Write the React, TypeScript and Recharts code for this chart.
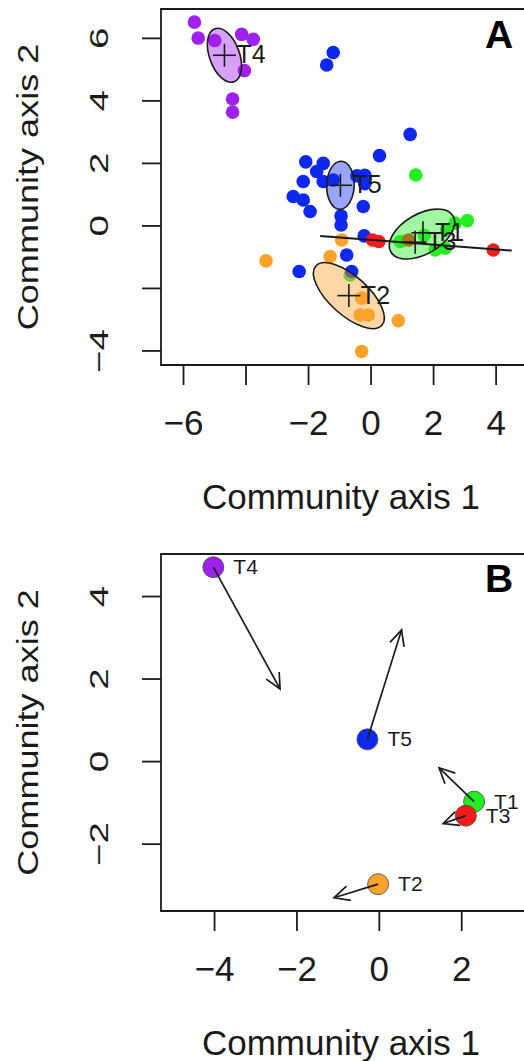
import {
  ScatterChart,
  Scatter,
  XAxis,
  YAxis,
  ReferenceArea,
  ReferenceLine,
} from 'recharts';

const FONT = '"Liberation Sans", Arial, Helvetica, sans-serif';
const INK = '#1b1b1b';

const COLORS: Record<string, string> = {
  T1: '#22ee22',
  T2: '#fba32b',
  T3: '#fb1a1a',
  T4: '#a020f0',
  T5: '#0f28f0',
};

// Panel A: site scores, one list per treatment
const sitesT1 = [
  { x: 1.43, y: 1.63 }, { x: 3.08, y: 0.17 }, { x: 2.69, y: 0.09 }, { x: 0.93, y: -0.5 },
  { x: 2.05, y: -0.77 }, { x: 2.37, y: -0.71 }, { x: 2.42, y: -0.13 }, { x: 1.7, y: -0.3 },
  { x: -0.67, y: -1.57 },
];
const sitesT2 = [
  { x: -0.94, y: -0.45 }, { x: -3.36, y: -1.12 }, { x: -1.31, y: -0.98 }, { x: -0.3, y: -2.31 },
  { x: -0.35, y: -2.85 }, { x: -0.09, y: -2.85 }, { x: 0.87, y: -3.03 }, { x: -0.3, y: -4.02 },
];
const sitesT3 = [
  { x: 0.05, y: -0.45 }, { x: 0.25, y: -0.5 }, { x: 1.2, y: -0.45 }, { x: 3.91, y: -0.77 },
];
const sitesT4 = [
  { x: -5.65, y: 6.52 }, { x: -5.53, y: 6.01 }, { x: -5.0, y: 5.93 }, { x: -4.14, y: 6.13 },
  { x: -3.77, y: 5.97 }, { x: -4.05, y: 4.97 }, { x: -4.43, y: 4.06 }, { x: -4.43, y: 3.64 },
];
const sitesT5 = [
  { x: -1.21, y: 5.55 }, { x: -1.42, y: 5.15 }, { x: 1.25, y: 2.93 }, { x: 0.27, y: 2.25 },
  { x: -2.09, y: 2.05 }, { x: -1.53, y: 2.0 }, { x: -1.74, y: 1.74 }, { x: -2.17, y: 1.42 },
  { x: -1.53, y: 1.42 }, { x: -1.21, y: 1.47 }, { x: -0.45, y: 1.6 }, { x: -0.2, y: 1.62 },
  { x: -0.2, y: 1.35 }, { x: -2.49, y: 0.94 }, { x: -2.17, y: 0.83 }, { x: -1.95, y: 0.46 },
  { x: -0.96, y: 0.32 }, { x: -0.96, y: 0.03 }, { x: -0.25, y: 0.62 }, { x: -0.22, y: -0.32 },
  { x: -0.78, y: -0.93 }, { x: -2.3, y: -1.46 }, { x: -0.62, y: -1.46 },
];

// treatment centroids (crosses)
const centroidsA = [
  { id: 'T4', x: -4.69, y: 5.46 },
  { id: 'T5', x: -0.98, y: 1.3 },
  { id: 'T1', x: 1.66, y: -0.22 },
  { id: 'T3', x: 1.41, y: -0.52 },
  { id: 'T2', x: -0.71, y: -2.23 },
];

// dispersion ellipses: centre, semi-axes (data units), rotation in degrees
const ellipsesA = [
  { id: 'T4', x: -4.69, y: 5.46, a: 0.9, b: 0.48, angle: -70 },
  { id: 'T5', x: -0.98, y: 1.3, a: 0.77, b: 0.44, angle: 88 },
  { id: 'T1', x: 1.63, y: -0.26, a: 1.15, b: 0.64, angle: 30 },
  { id: 'T2', x: -0.71, y: -2.23, a: 1.42, b: 0.62, angle: -42 },
];

// T3 ellipse collapses to a line
const t3Axis = [{ x: -1.63, y: -0.32 }, { x: 4.5, y: -0.79 }];

// Panel B: centroids and where they moved to
const centroidsB = [
  { id: 'T4', x: -4.03, y: 4.71 },
  { id: 'T5', x: -0.29, y: 0.54 },
  { id: 'T2', x: -0.03, y: -2.97 },
  { id: 'T1', x: 2.3, y: -0.97 },
  { id: 'T3', x: 2.1, y: -1.31 },
];
const shiftEndsB = [
  { id: 'T4', x: -2.41, y: 1.76 },
  { id: 'T5', x: 0.54, y: 3.19 },
  { id: 'T2', x: -1.1, y: -3.3 },
  { id: 'T1', x: 1.45, y: -0.15 },
  { id: 'T3', x: 1.55, y: -1.5 },
];

const A_X_DOMAIN = [-6.72, 5.5];
const A_Y_DOMAIN = [-4.45, 6.94];
const A_X_TICKS = [-6, -4, -2, 0, 2, 4];
const A_Y_TICKS = [-4, -2, 0, 2, 4, 6];
const A_X_UNLABELLED = [-4];
const A_Y_UNLABELLED = [-2];

const B_X_DOMAIN = [-5.3, 3.9];
const B_Y_DOMAIN = [-3.62, 5.03];
const B_X_TICKS = [-4, -2, 0, 2];
const B_Y_TICKS = [-2, 0, 2, 4];

const fmt = (v: number) => (v < 0 ? `\u2212${-v}` : `${v}`);

const xTick = (skip: number[]) => (p: any) => {
  const v = p.payload.value;
  return (
    <text x={p.x} y={p.y + 50} textAnchor="middle" fontSize={35} fontFamily={FONT} fill={INK}>
      {skip.includes(v) ? '' : fmt(v)}
    </text>
  );
};

const yTick = (skip: number[]) => (p: any) => {
  const v = p.payload.value;
  return (
    <text
      transform={`translate(${p.x - 34},${p.y}) rotate(-90) scale(1.1,0.75)`}
      textAnchor="middle"
      fontSize={35}
      fontFamily={FONT}
      fill={INK}
    >
      {skip.includes(v) ? '' : fmt(v)}
    </text>
  );
};

const xTitle = (p: any) => {
  const vb = p.viewBox;
  return (
    <text x={vb.x + 180} y={vb.y + 144} textAnchor="middle" fontSize={35} fontFamily={FONT} fill={INK}>
      Community axis 1
    </text>
  );
};

const yTitle = (p: any) => {
  const vb = p.viewBox;
  return (
    <text
      transform={`translate(${vb.x - 63},${vb.y + vb.height / 2}) rotate(-90) scale(1.03,0.85)`}
      textAnchor="middle"
      fontSize={35}
      fontFamily={FONT}
      fill={INK}
    >
      Community axis 2
    </text>
  );
};

const panelTag = (tag: string, dy: number) => (p: any) => {
  const vb = p.viewBox;
  return (
    <text x={vb.x + 338} y={vb.y + dy} textAnchor="middle" fontSize={39} fontWeight="bold" fontFamily={FONT} fill="#000">
      {tag}
    </text>
  );
};

const dot = (color: string) => (p: any) => <circle cx={p.cx} cy={p.cy} r={6.8} fill={color} />;

const crossShape = (p: any) => (
  <g>
    <line x1={p.cx - 11.5} x2={p.cx + 11.5} y1={p.cy} y2={p.cy} stroke={INK} strokeWidth={1.6} />
    <line x1={p.cx} x2={p.cx} y1={p.cy - 11.5} y2={p.cy + 11.5} stroke={INK} strokeWidth={1.6} />
    <text x={p.cx + 12} y={p.cy + 8} fontSize={25} fontFamily={FONT} fill={INK}>
      {p.payload.id}
    </text>
  </g>
);

const ellipseShape = (color: string, angle: number) => (p: any) => {
  const cx = p.x + p.width / 2;
  const cy = p.y + p.height / 2;
  return (
    <ellipse
      cx={cx}
      cy={cy}
      rx={p.width / 2}
      ry={p.height / 2}
      transform={`rotate(${-angle} ${cx} ${cy})`}
      fill={color}
      fillOpacity={0.42}
      stroke={INK}
      strokeWidth={1.6}
    />
  );
};

const centroidDot = (p: any) => (
  <g>
    <circle cx={p.cx} cy={p.cy} r={10.5} fill={COLORS[p.payload.id]} stroke="#444" strokeWidth={0.8} />
    <text x={p.cx + 20} y={p.cy + 7} fontSize={21} fontFamily={FONT} fill={INK}>
      {p.payload.id}
    </text>
  </g>
);

const arrowShape = (p: any) => {
  const { x1, y1, x2, y2 } = p;
  const ang = Math.atan2(y2 - y1, x2 - x1);
  const len = 17;
  const spread = Math.PI / 7;
  const ax1 = x2 - len * Math.cos(ang - spread);
  const ay1 = y2 - len * Math.sin(ang - spread);
  const ax2 = x2 - len * Math.cos(ang + spread);
  const ay2 = y2 - len * Math.sin(ang + spread);
  return (
    <g>
      <line x1={x1} y1={y1} x2={x2} y2={y2} stroke={INK} strokeWidth={1.7} />
      <polyline points={`${ax1},${ay1} ${x2},${y2} ${ax2},${ay2}`} fill="none" stroke={INK} strokeWidth={1.7} />
    </g>
  );
};

function PanelA() {
  return (
    <ScatterChart width={600} height={530} margin={{ top: 9, right: 57, bottom: 135, left: 101 }}>
      <XAxis
        dataKey="x"
        type="number"
        domain={A_X_DOMAIN}
        allowDataOverflow
        ticks={A_X_TICKS}
        interval={0}
        height={30}
        axisLine={false}
        tickLine={{ stroke: INK, strokeWidth: 1.8 }}
        tickSize={20}
        tickMargin={0}
        tick={xTick(A_X_UNLABELLED)}
        label={xTitle}
      />
      <YAxis
        dataKey="y"
        type="number"
        domain={A_Y_DOMAIN}
        allowDataOverflow
        ticks={A_Y_TICKS}
        interval={0}
        width={60}
        axisLine={false}
        tickLine={{ stroke: INK, strokeWidth: 1.8 }}
        tickSize={19}
        tickMargin={0}
        tick={yTick(A_Y_UNLABELLED)}
        label={yTitle}
      />
      <Scatter data={sitesT1} shape={dot(COLORS.T1)} isAnimationActive={false} />
      <Scatter data={sitesT2} shape={dot(COLORS.T2)} isAnimationActive={false} />
      <Scatter data={sitesT4} shape={dot(COLORS.T4)} isAnimationActive={false} />
      <Scatter data={sitesT5} shape={dot(COLORS.T5)} isAnimationActive={false} />
      <Scatter data={sitesT3} shape={dot(COLORS.T3)} isAnimationActive={false} />
      {ellipsesA.map((e) => (
        <ReferenceArea
          key={e.id}
          x1={e.x - e.a}
          x2={e.x + e.a}
          y1={e.y - e.b}
          y2={e.y + e.b}
          ifOverflow="visible"
          zIndex={650}
          shape={ellipseShape(COLORS[e.id], e.angle)}
        />
      ))}
      <ReferenceLine segment={t3Axis} stroke={INK} strokeWidth={2} ifOverflow="visible" zIndex={660} />
      <Scatter data={centroidsA} shape={crossShape} isAnimationActive={false} zIndex={700} />
      <ReferenceArea
        x1={A_X_DOMAIN[0]}
        x2={A_X_DOMAIN[1]}
        y1={A_Y_DOMAIN[0]}
        y2={A_Y_DOMAIN[1]}
        fill="none"
        stroke={INK}
        strokeWidth={1.8}
        ifOverflow="visible"
        zIndex={800}
        label={panelTag('A', 39)}
      />
    </ScatterChart>
  );
}

function PanelB() {
  return (
    <ScatterChart width={600} height={531} margin={{ top: 24, right: 60, bottom: 120, left: 101 }}>
      <XAxis
        dataKey="x"
        type="number"
        domain={B_X_DOMAIN}
        allowDataOverflow
        ticks={B_X_TICKS}
        interval={0}
        height={30}
        axisLine={false}
        tickLine={{ stroke: INK, strokeWidth: 1.8 }}
        tickSize={20}
        tickMargin={0}
        tick={xTick([])}
        label={xTitle}
      />
      <YAxis
        dataKey="y"
        type="number"
        domain={B_Y_DOMAIN}
        allowDataOverflow
        ticks={B_Y_TICKS}
        interval={0}
        width={60}
        axisLine={false}
        tickLine={{ stroke: INK, strokeWidth: 1.8 }}
        tickSize={19}
        tickMargin={0}
        tick={yTick([])}
        label={yTitle}
      />
      <Scatter data={centroidsB} shape={centroidDot} isAnimationActive={false} />
      {centroidsB.map((c, i) => (
        <ReferenceLine
          key={c.id}
          segment={[
            { x: c.x, y: c.y },
            { x: shiftEndsB[i].x, y: shiftEndsB[i].y },
          ]}
          ifOverflow="visible"
          zIndex={700}
          shape={arrowShape}
        />
      ))}
      <ReferenceArea
        x1={B_X_DOMAIN[0]}
        x2={B_X_DOMAIN[1]}
        y1={B_Y_DOMAIN[0]}
        y2={B_Y_DOMAIN[1]}
        fill="none"
        stroke={INK}
        strokeWidth={1.8}
        ifOverflow="visible"
        zIndex={800}
        label={panelTag('B', 38)}
      />
    </ScatterChart>
  );
}

export default function App() {
  return (
    <div
      style={{
        position: 'absolute',
        left: 0,
        top: 0,
        width: 524,
        height: 1061,
        overflow: 'hidden',
        background: '#fff',
      }}
    >
      <div style={{ position: 'absolute', left: 0, top: 0 }}>
        <PanelA />
      </div>
      <div style={{ position: 'absolute', left: 0, top: 530 }}>
        <PanelB />
      </div>
    </div>
  );
}
